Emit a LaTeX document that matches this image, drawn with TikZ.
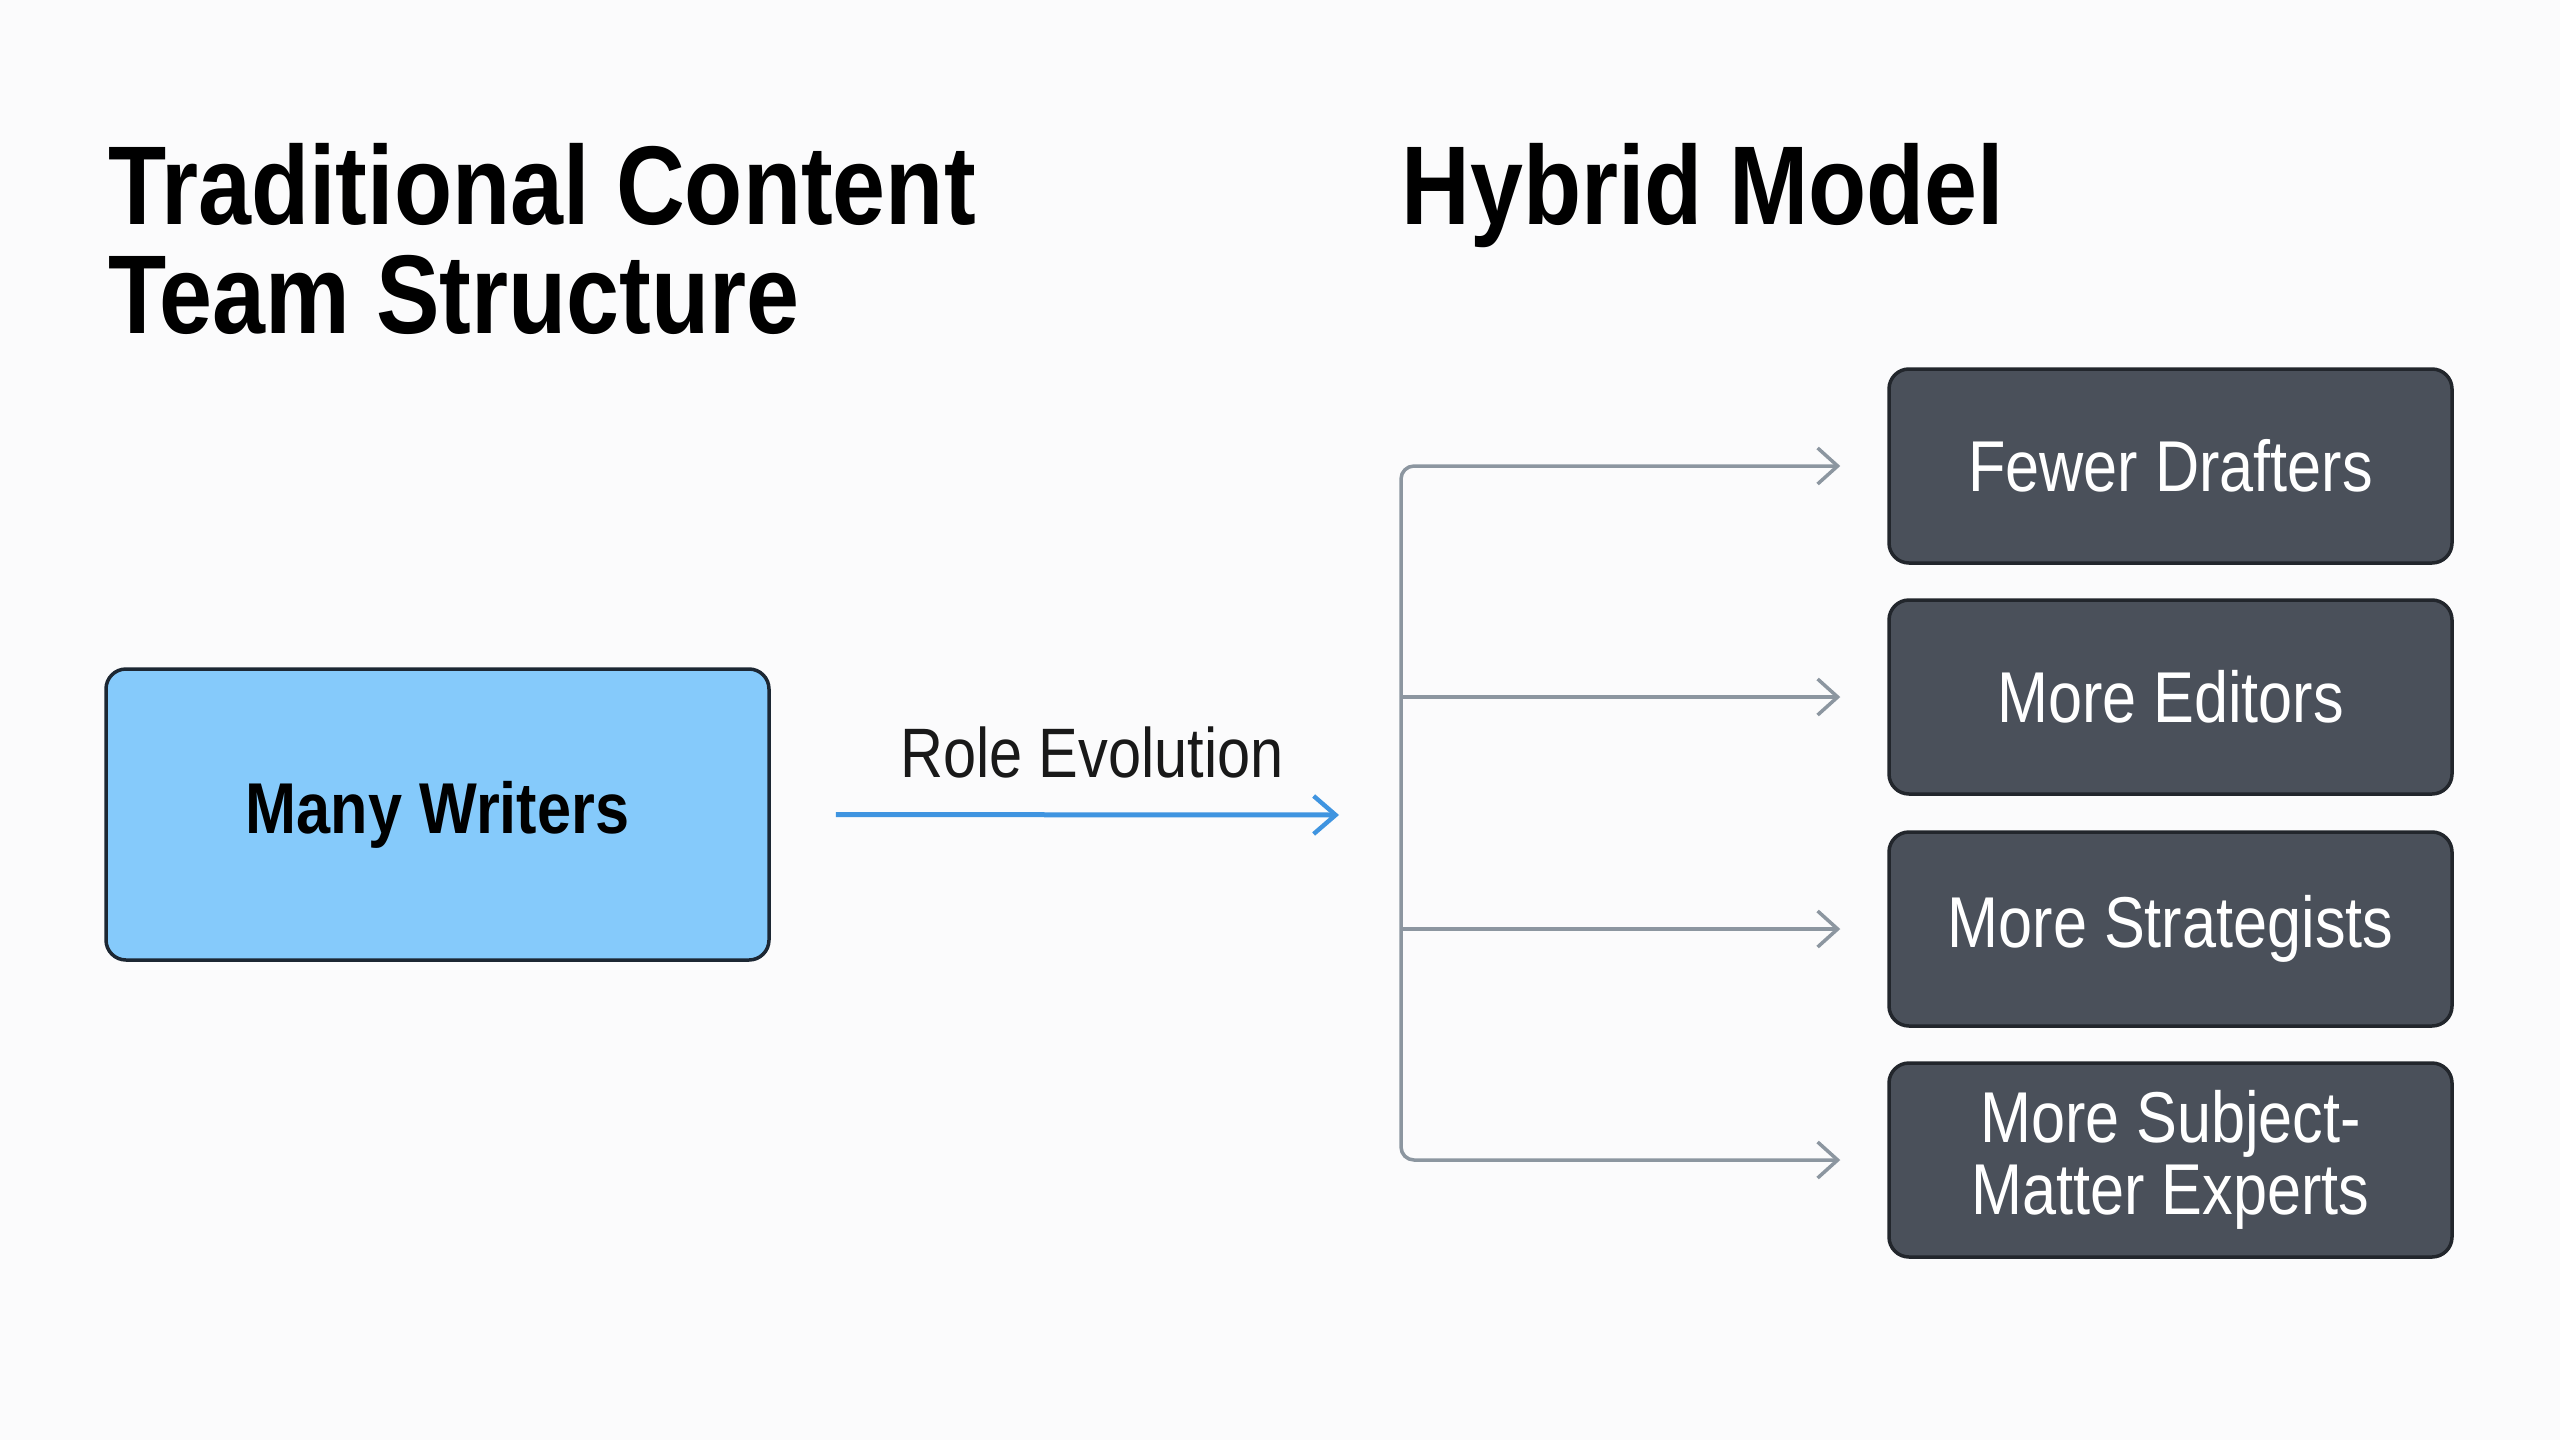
\documentclass[tikz,border=0pt]{standalone}
\usepackage{fontspec}
\setmainfont[FakeStretch=0.85]{Liberation Sans}
\usetikzlibrary{arrows.meta}
\definecolor{bgc}{HTML}{FBFBFC}
\definecolor{lblue}{HTML}{85CAFB}
\definecolor{navy}{HTML}{1C2733}
\definecolor{darkbox}{HTML}{4A505A}
\definecolor{darkedge}{HTML}{22262C}
\definecolor{conn}{HTML}{8C96A0}
\definecolor{bluearrow}{HTML}{3F94E0}
\tikzset{
  titletext/.style={inner sep=0pt, align=left, font=\fontsize{56pt}{54.5pt}\selectfont\bfseries, text=black},
  srcbox/.style={rounded corners=10pt, minimum width=331.5pt, minimum height=145.5pt, fill=lblue, draw=navy, line width=1.75pt, font=\fontsize{36pt}{36pt}\selectfont\bfseries, text=black},
  rolebox/.style={rounded corners=10pt, minimum width=281.5pt, minimum height=97pt, fill=darkbox, draw=darkedge, line width=1.75pt, font=\fontsize{36pt}{36pt}\selectfont, text=white, align=center},
  lbl/.style={inner sep=0pt, font=\fontsize{35pt}{36pt}\selectfont, text=black!90},
  bluearr/.style={draw=bluearrow, line width=2.5pt, -{Straight Barb[length=11pt,width=19pt,line width=2.2pt]}},
  grayarr/.style={draw=conn, line width=1.75pt, rounded corners=6.5pt, -{Straight Barb[length=10pt,width=18pt,line width=1.75pt]}, shorten >=23.5pt}
}
\begin{document}
\begin{tikzpicture}[x=0.5pt,y=-0.5pt]
\fill[bgc] (0,0) rectangle (2560,1440);
\useasboundingbox (0,0) rectangle (2560,1440);

\node[titletext, anchor=base west] (ttrad) at (108,333) {Traditional Content\\Team Structure};
\node[titletext, anchor=base west] (thyb) at (1401,224) {Hybrid Model};

\node[srcbox] (mw) at (437.5,814.5) {Many Writers};
\node[lbl, anchor=base] (re) at (1092,777) {Role Evolution};

\node[rolebox] (b1) at (2170.5,466) {Fewer Drafters};
\node[rolebox] (b2) at (2170.5,697) {More Editors};
\node[rolebox] (b3) at (2170.5,929) {More Strategists};
\node[rolebox] (b4) at (2170.5,1160) {More Subject-\\Matter Experts};

\coordinate (hub) at (1339,815);
\coordinate (tr) at (1401,815);

\draw[bluearr, shorten <=32.5pt] (mw.east) -- (hub);

\draw[grayarr] (tr) -- (tr |- b1.west) -- (b1.west);
\draw[grayarr] (tr |- b2.west) -- (b2.west);
\draw[grayarr] (tr |- b3.west) -- (b3.west);
\draw[grayarr] (tr) -- (tr |- b4.west) -- (b4.west);
\end{tikzpicture}
\end{document}
